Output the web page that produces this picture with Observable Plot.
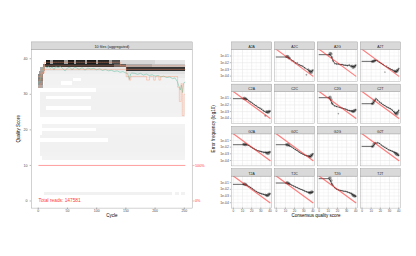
<!DOCTYPE html>
<html><head><meta charset="utf-8">
<script src="https://cdn.jsdelivr.net/npm/d3@7"></script>
<script src="https://cdn.jsdelivr.net/npm/@observablehq/plot@0.6"></script>
<style>
html,body{margin:0;padding:0;background:#fff;}
#wrap{position:relative;width:416px;height:256px;overflow:hidden;}
#wrap svg{position:absolute;top:0;max-width:none;}
</style></head><body><div id="wrap"></div>
<script>
// ---------------- LEFT: quality profile data ----------------
const stripLeft = "10 files (aggregated)";
const totalReads = 147581;
const cycleTicks = [0, 50, 100, 150, 200, 250];
const qualTicks = [0, 10, 20, 30, 40];
const pctTicks = [0, 10];
// [quality, firstCycle, lastCycle, density]
const heatRuns = [
  [39,14,20,0.9],[39,21,26,0.35],[39,27,45,0.85],[39,46,51,0.35],[39,52,62,0.9],[39,63,65,0.35],
  [39,66,80,0.85],[39,81,83,0.35],[39,84,100,0.9],[39,101,103,0.35],[39,104,122,0.85],[39,123,126,0.35],
  [39,127,140,0.7],[39,141,200,0.12],[39,201,251,0.06],
  [38,9,12,0.5],[38,13,130,0.82],[38,131,150,0.6],[38,151,195,0.3],[38,196,251,0.2],
  [37,5,12,0.3],[37,13,150,0.06],[37,151,251,0.78],
  [36,3,10,0.35],[36,11,150,0.025],[36,151,251,0.08],
  [35,1,8,0.45],[35,9,150,0.012],[35,151,251,0.04],
  [34,1,8,0.5],[34,9,60,0.012],[34,75,251,0.012],
  [33,1,8,0.4],[33,12,40,0.012],[33,60,251,0.012],
  [32,1,8,0.3],[32,9,251,0.01],
  [31,100,251,0.012],
  [30,5,251,0.018],
  [29,5,13,0.018],[29,91,251,0.018],
  [28,5,251,0.018],
  [27,5,251,0.015],
  [26,5,13,0.015],[26,91,251,0.015],
  [25,5,251,0.015],
  [24,5,251,0.012],
  [21,8,251,0.01],
  [20,101,251,0.012],
  [19,8,251,0.012],
  [18,5,251,0.015],
  [17,121,251,0.015],
  [16,5,251,0.018],[15,5,251,0.018],[14,5,251,0.015],[13,5,251,0.012],[12,8,251,0.01],
  [2,12,230,0.015],[2,236,242,0.012],[2,246,251,0.012]
];
const meanCycle = [1,3,5,7,9,12,15,18,21,24,27,30,34,38,42,46,50,54,58,62,66,70,75,80,85,90,95,100,105,110,115,120,125,130,135,140,145,150,153,156,158,160,165,170,175,180,185,190,195,200,205,210,215,220,225,230,234,238,241,243,245,247,249,251];
const meanQual  = [33.2,33.8,35.5,37.0,37.6,37.9,37.5,37.8,37.3,37.7,36.9,37.8,37.5,37.8,37.2,36.6,37.4,37.6,36.9,37.6,37.4,37.0,37.5,36.8,37.4,37.1,37.3,36.9,37.2,36.7,37.0,36.6,36.8,36.4,36.6,36.2,36.4,36.0,35.8,34.2,35.7,36.0,35.9,35.6,35.9,35.4,35.7,35.3,35.5,35.1,35.3,34.9,35.1,34.7,34.9,34.4,34.6,33.6,32.2,31.2,32.6,30.5,33.2,33.4];
// [firstCycle, lastCycle, quality]
const medianRuns = [[1,4,34],[5,8,36],[9,150,38],[151,251,37]];
const q25Runs = [[1,3,32],[4,6,33],[7,10,36],[11,150,37],[151,155,35],[156,158,34],[159,185,35],[186,190,34],[191,197,35],[198,200,34],[201,206,35],[207,209,34],[210,238,35],[239,241,32],[242,244,28],[245,246,33],[247,249,24],[250,251,30]];
const q75Runs = [[1,5,35],[6,10,37],[11,140,39],[141,251,38]];
const lenCycle = [1, 251];
const lenProp = [1, 1];

// ---------------- RIGHT: error rates data ----------------
const nts = ["A", "C", "G", "T"];
const qTicks = [0, 10, 20, 30, 40];
const qMinor = [5, 15, 25, 35];
const errTicks = [1e-1, 1e-2, 1e-3, 1e-4];
const errMinor = [10 ** -0.5, 10 ** -1.5, 10 ** -2.5, 10 ** -3.5, 10 ** -4.5];
const nominalQ = [0, 40];
const nominalErr = [1, 1e-4];
// fitted (log10) at fitQ
const fitQ = [0,10,12,14,16,18,20,23,26,29,32,35,37,38,40];
const fitA2C = [-1.15,-1.15,-1.18,-1.3,-1.5,-1.7,-1.9,-2.15,-2.35,-2.55,-2.85,-3.1,-3.35,-3.4,-3.15];
const fitA2G = [-0.8,-0.8,-0.75,-1.3,-1.95,-2.15,-2.2,-2.25,-2.3,-2.4,-2.4,-2.5,-2.6,-2.6,-2.4];
const fitA2T = [-1.8,-1.8,-1.8,-1.7,-1.65,-1.85,-2.0,-2.3,-2.55,-2.8,-3.0,-3.25,-3.35,-3.3,-2.9];
const fitC2A = [-1.07,-1.07,-1.08,-1.12,-1.25,-1.5,-1.65,-1.97,-2.25,-2.5,-2.8,-3.07,-3.1,-3.05,-2.97];
const fitC2G = [-0.92,-0.92,-1.07,-1.8,-2.05,-2.17,-2.28,-2.4,-2.52,-2.65,-2.82,-2.9,-2.95,-2.97,-2.72];
const fitC2T = [-1.82,-1.82,-1.8,-1.3,-1.1,-1.45,-1.67,-1.97,-2.22,-2.45,-2.65,-3.07,-3.32,-3.2,-2.82];
const fitG2A = [-1.64,-1.64,-1.64,-1.62,-1.7,-1.85,-2.05,-2.3,-2.5,-2.62,-2.72,-2.8,-2.84,-2.82,-2.74];
const fitG2C = [-1.64,-1.64,-1.66,-1.78,-1.92,-2.1,-2.3,-2.55,-2.85,-3.05,-3.24,-3.35,-3.4,-3.35,-2.99];
const fitG2T = [-1.89,-1.89,-1.89,-1.49,-1.42,-1.39,-1.55,-1.9,-2.15,-2.39,-2.55,-2.74,-2.9,-3.0,-3.24];
const fitT2A = [-1.26,-1.26,-1.27,-1.35,-1.5,-1.65,-1.85,-2.15,-2.4,-2.6,-2.72,-2.85,-2.91,-2.88,-2.66];
const fitT2C = [-1.06,-1.06,-1.08,-1.18,-1.32,-1.45,-1.57,-1.76,-1.95,-2.12,-2.3,-2.45,-2.5,-2.48,-2.41];
const fitT2G = [-0.41,-0.41,-0.6,-1.26,-1.6,-1.91,-2.02,-2.16,-2.25,-2.31,-2.45,-2.62,-2.85,-2.91,-3.06];
// observed (log10) at obsQ
const obsQ = [11,12,13,14,15,17,19,21,23,25,27,29,31,33,35,36,37,38,39,40];
const obsCount = [3,4,4,3,2,1.5,1.5,1.5,1.5,1.5,1.5,1.6,1.8,2,2.5,3,4,4.5,4,2];
const obsA2C = [-1.1,-1.05,-1.15,-1.35,-1.3,-1.7,-1.75,-2.1,-2.0,-2.35,-2.45,-2.5,-2.75,-3.8,-3.0,-3.2,-3.3,-3.45,-3.25,-3.1];
const obsA2G = [-0.85,-0.6,-0.7,-1.2,-1.7,-2.15,-2.2,-2.15,-2.3,-2.25,-2.4,-2.35,-2.45,-2.3,-2.55,-2.45,-2.7,-2.6,-2.5,-2.35];
const obsA2T = [-1.85,-1.8,-1.75,-1.65,-1.7,-1.7,-1.95,-2.1,-2.25,-3.4,-2.5,-2.75,-2.95,-3.05,-3.2,-3.3,-3.35,-3.25,-3.1,-2.85];
const obsC2A = [-1.05,-1.0,-1.1,-1.1,-1.2,-1.4,-1.55,-1.75,-1.95,-2.1,-2.35,-2.45,-2.6,-2.85,-3.6,-3.0,-3.05,-3.1,-2.95,-2.9];
const obsC2G = [-0.9,-0.85,-1.2,-1.75,-1.9,-2.2,-2.25,-3.3,-2.4,-2.45,-2.55,-2.6,-2.75,-2.85,-2.9,-2.95,-3.0,-2.9,-2.8,-2.7];
const obsC2T = [-1.85,-1.75,-1.45,-1.3,-1.05,-1.3,-1.55,-1.7,-1.95,-2.1,-2.3,-2.4,-2.55,-2.75,-3.0,-3.2,-3.3,-3.35,-3.1,-2.8];
const obsG2A = [-1.6,-1.55,-1.65,-1.6,-1.7,-1.75,-1.95,-2.1,-2.25,-2.4,-2.55,-2.6,-2.7,-2.8,-2.75,-2.9,-2.85,-2.95,-2.8,-2.7];
const obsG2C = [-1.6,-1.7,-1.6,-1.75,-1.85,-1.95,-2.15,-2.35,-2.5,-2.7,-2.85,-3.0,-3.15,-3.25,-3.3,-3.4,-3.45,-3.3,-3.15,-3.0];
const obsG2T = [-1.95,-1.85,-1.55,-1.4,-1.35,-1.3,-1.45,-1.7,-1.85,-2.0,-2.15,-2.4,-2.5,-2.6,-2.75,-2.85,-2.95,-3.05,-3.15,-3.25];
const obsT2A = [-1.25,-1.2,-1.3,-1.3,-1.4,-1.55,-1.7,-1.9,-2.1,-2.3,-2.45,-2.55,-2.65,-2.75,-2.8,-2.9,-2.95,-2.85,-2.7,-2.65];
const obsT2C = [-1.05,-1.0,-1.1,-1.15,-1.2,-1.35,-1.5,-1.65,-1.75,-1.9,-2.0,-2.1,-2.25,-2.35,-2.45,-2.5,-2.55,-2.45,-2.4,-2.35];
const obsT2G = [-0.35,-0.3,-0.7,-1.2,-1.4,-1.75,-1.95,-2.1,-2.15,-2.2,-2.3,-2.3,-2.4,-2.5,-2.6,-2.75,-2.85,-2.95,-3.0,-3.05];

// ---------------- build tables ----------------
const heatData = heatRuns.map(([q, c1, c2, d]) => ({x1: c1 - 0.5, x2: c2 + 0.5, y1: q - 0.5, y2: q + 0.5, d}));
const meanData = meanCycle.map((c, i) => ({c, v: meanQual[i]}));
const stepPts = runs => runs.flatMap(([c1, c2, v]) => [{c: c1 - 0.5, v}, {c: c2 + 0.5, v}]);
const lenData = lenCycle.map((c, i) => ({c, p: lenProp[i]}));

const fitted = {A2C: fitA2C, A2G: fitA2G, A2T: fitA2T, C2A: fitC2A, C2G: fitC2G, C2T: fitC2T,
  G2A: fitG2A, G2C: fitG2C, G2T: fitG2T, T2A: fitT2A, T2C: fitT2C, T2G: fitT2G};
const observed = {A2C: obsA2C, A2G: obsA2G, A2T: obsA2T, C2A: obsC2A, C2G: obsC2G, C2T: obsC2T,
  G2A: obsG2A, G2C: obsG2C, G2T: obsG2T, T2A: obsT2A, T2C: obsT2C, T2G: obsT2G};
const panels = [];
for (const f of nts) for (const t of nts) panels.push({from: f, to: t, name: f + "2" + t});
const fitRows = Object.entries(fitted).flatMap(([name, v]) => v.map((lv, i) => ({from: name[0], to: name[2], q: fitQ[i], err: 10 ** lv})));
const obsRows = Object.entries(observed).flatMap(([name, v]) => v.map((lv, i) => ({from: name[0], to: name[2], q: obsQ[i], err: 10 ** lv, n: obsCount[i]})));
const nomRows = Object.keys(fitted).flatMap(name => nominalQ.map((q, i) => ({from: name[0], to: name[2], q, err: nominalErr[i]})));

// ---------------- layout / style ----------------
const FONT = "'Liberation Sans', Arial, sans-serif";
const H = 256;
const TICKC = "#4d4d4d";
const LW = 210, LMT = 49, LMB = 48.4, LML = 31, LMR = LW - 191.7;
const lPanelH = H - LMT - LMB;
const RW = 211, RMT = 49, RMB = 48.4, RML = 26, RMR = 16;
const fxPad = 0.061, fyPad = 0.242;
const fyBand = (H - RMT - RMB) / (4 - fyPad) * (1 - fyPad);
const STRIP = 7.6;
const fmtE = d => { const e = Math.round(Math.log10(d)); return "1e" + (e < 0 ? "-" : "+") + String(Math.abs(e)).padStart(2, "0"); };

const left = Plot.plot({
  width: LW, height: H, marginLeft: LML, marginRight: LMR, marginTop: LMT, marginBottom: LMB,
  style: {fontFamily: FONT, fontSize: "3.6px", overflow: "visible", background: "transparent"},
  x: {domain: [-11.5, 263.5]},
  y: {domain: [-2.0, 42.6]},
  color: {type: "linear", domain: [0, 1], range: ["#F5F5F5", "#000000"]},
  marks: [
    Plot.rect(heatData, {x1: "x1", x2: "x2", y1: "y1", y2: "y2", fill: "d", inset: 0, shapeRendering: "crispEdges"}),
    Plot.line(meanData, {x: "c", y: "v", stroke: "#66C2A5", strokeWidth: 0.55}),
    Plot.line(stepPts(medianRuns), {x: "c", y: "v", stroke: "#FC8D62", strokeWidth: 0.4}),
    Plot.line(stepPts(q25Runs), {x: "c", y: "v", stroke: "#FC8D62", strokeWidth: 0.4, strokeDasharray: "1.2,0.9"}),
    Plot.line(stepPts(q75Runs), {x: "c", y: "v", stroke: "#FC8D62", strokeWidth: 0.4, strokeDasharray: "1.2,0.9"}),
    Plot.line(lenData, {x: "c", y: d => 10 * d.p, stroke: "#ff3b3b", strokeWidth: 0.5}),
    Plot.text([totalReads], {text: d => "Total reads: " + d, frameAnchor: "bottom-left", dx: 7, dy: -6.6, textAnchor: "start", fill: "#ff3b3b", fontSize: 4.8}),
    Plot.frame({stroke: "#999", strokeWidth: 0.45}),
    Plot.frame({fill: "#d9d9d9", stroke: "#8a8a8a", strokeWidth: 0.35, insetTop: -STRIP, insetBottom: lPanelH}),
    Plot.text([stripLeft], {text: d => d, frameAnchor: "top", dy: -STRIP / 2, fontSize: 3.8, fill: "#1a1a1a"}),
    Plot.axisX({ticks: cycleTicks, tickSize: 1.4, tickPadding: 0.3, fontSize: 3.5, color: TICKC, strokeWidth: 0.4, label: null}),
    Plot.axisY({ticks: qualTicks, tickSize: 1.4, tickPadding: 2.6, fontSize: 3.6, color: TICKC, strokeWidth: 0.4, label: null}),
    Plot.axisY({anchor: "right", ticks: pctTicks, tickFormat: d => (d * 10) + "%", tickSize: 1.8, tickPadding: 1, fontSize: 3.8, color: "#ff3b3b", strokeWidth: 0.4, label: null}),
    Plot.axisX({ticks: [], tickSize: 0, label: "Cycle", labelAnchor: "center", labelArrow: "none", labelOffset: 8.4, fontSize: 4.5, fill: "#000"}),
    Plot.axisY({ticks: [], tickSize: 0, label: "Quality Score", labelAnchor: "center", labelArrow: "none", labelOffset: 14.5, fontSize: 4.6, fill: "#000"})
  ]
});

const right = Plot.plot({
  width: RW, height: H, marginLeft: RML, marginRight: RMR, marginTop: RMT, marginBottom: RMB,
  style: {fontFamily: FONT, fontSize: "3.5px", overflow: "visible", background: "transparent"},
  fx: {domain: nts, paddingInner: fxPad, paddingOuter: 0, round: false, axis: null, label: null},
  fy: {domain: nts, paddingInner: fyPad, paddingOuter: 0, round: false, axis: null, label: null},
  x: {domain: [-2, 42]},
  y: {type: "log", domain: [10 ** -4.8, 10 ** -0.03]},
  r: {type: "linear", domain: [1, 5], range: [0.45, 1.7]},
  marks: [
    Plot.gridX({ticks: qMinor, stroke: "#efefef", strokeOpacity: 1, strokeWidth: 0.3}),
    Plot.gridY({ticks: errMinor, stroke: "#efefef", strokeOpacity: 1, strokeWidth: 0.3}),
    Plot.gridX({ticks: qTicks, stroke: "#e4e4e4", strokeOpacity: 1, strokeWidth: 0.5}),
    Plot.gridY({ticks: errTicks, stroke: "#e4e4e4", strokeOpacity: 1, strokeWidth: 0.5}),
    Plot.dot(obsRows, {fx: "to", fy: "from", x: "q", y: "err", r: "n", fill: "#5a5a5a", fillOpacity: 0.55, stroke: "#333", strokeWidth: 0.2, strokeOpacity: 0.6}),
    Plot.line(fitRows, {fx: "to", fy: "from", x: "q", y: "err", stroke: "#000", strokeWidth: 0.6}),
    Plot.line(nomRows, {fx: "to", fy: "from", x: "q", y: "err", stroke: "#ff2a2a", strokeOpacity: 0.6, strokeWidth: 1.2, clip: true}),
    Plot.frame({stroke: "#999", strokeWidth: 0.4}),
    Plot.frame({fill: "#d9d9d9", stroke: "#8a8a8a", strokeWidth: 0.35, insetTop: -STRIP, insetBottom: fyBand}),
    Plot.text(panels, {fx: "to", fy: "from", text: "name", frameAnchor: "top", dy: -STRIP / 2, fontSize: 3.4, fill: "#1a1a1a"}),
    Plot.axisX({ticks: qTicks, tickSize: 1.2, tickPadding: 0.3, fontSize: 3.1, color: TICKC, strokeWidth: 0.4, label: null}),
    Plot.axisY({ticks: errTicks, tickFormat: fmtE, tickSize: 1.2, tickPadding: 1.4, fontSize: 3.4, color: TICKC, strokeWidth: 0.4, label: null}),
    Plot.axisX({ticks: [], tickSize: 0, label: "Consensus quality score", labelAnchor: "center", labelArrow: "none", labelOffset: 8.4, fontSize: 4.5, fill: "#000"}),
    Plot.axisY({ticks: [], tickSize: 0, label: "Error frequency (log10)", labelAnchor: "center", labelArrow: "none", labelOffset: 19.3, fontSize: 4.6, fill: "#000"})
  ]
});

const wrap = document.getElementById("wrap");
left.style.left = "0px";
right.style.left = "205px";
wrap.appendChild(left);
wrap.appendChild(right);
</script></body></html>
